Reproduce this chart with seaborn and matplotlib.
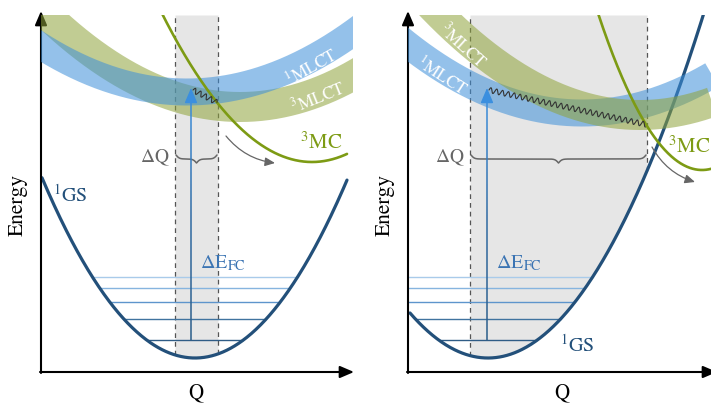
import numpy as np
import pandas as pd
import matplotlib
matplotlib.use("Agg")
import matplotlib.pyplot as plt
import seaborn as sns
from matplotlib.collections import LineCollection
from matplotlib.colors import LinearSegmentedColormap

# potential curves: (Q at minimum, E at minimum, curvature)
gs_left = (154, 14, 0.0077)
mc_left = (271, 210, 0.0066)
mlct1_left = (146, 280, 0.00215)
mlct3_left = (199, 265, 0.00247)

gs_right = (80, 14, 0.0074)
mc_right = (294, 202, 0.0145)
mlct1_right = (174, 259, 0.00225)
mlct3_right = (232, 257, 0.0025)

# vibrational levels of the ground state (E)
levels = [95, 84, 70, 53, 32]
level_colors = ['#a9cbea', '#86b4df', '#5e95cc', '#40739f', '#2f5c86']

# Franck-Condon region (Q range) and transition
fc_left = (134, 177)
fc_right = (62, 239)
exc_q_left = 150
exc_q_right = 79
exc_top = 284

W, H = 711, 405
TOP = 357

sns.set_theme(style="white")
plt.rcParams['font.family'] = ['STIXGeneral', 'DejaVu Serif']
plt.rcParams['mathtext.fontset'] = 'stix'

BLUE_BAND = '#3d8fd9'
GREEN_BAND = '#8fa33a'
GS_COL = '#23507a'
MC_COL = '#7d9b14'
GRAY = '#666666'

fig = plt.figure(figsize=(W / 100, H / 100), dpi=100)


def parab(q, p):
    q0, e0, k = p
    return e0 + k * (q - q0) ** 2


def brace(ax, q0, q1, e, h=8, beta=0.6):
    n = 200
    xh = np.linspace(0, (q1 - q0) / 2, n)
    f = 1 / (1 + np.exp(-beta * xh)) + 1 / (1 + np.exp(-beta * (xh - xh[-1])))
    f = np.concatenate([f, f[-2::-1]])
    xs = np.concatenate([xh, (q1 - q0) - xh[-2::-1]]) + q0
    ax.plot(xs, e - (f - 0.5) * h, color=GRAY, lw=1.1, zorder=6)


def wavy(ax, p0, p1, period=6.0, amp=2.6):
    p0 = np.asarray(p0, float)
    p1 = np.asarray(p1, float)
    d = p1 - p0
    L = np.hypot(*d)
    u = d / L
    nrm = np.array([-u[1], u[0]])
    t = np.linspace(0, 1, 500)
    s = amp * np.sin(2 * np.pi * t * L / period)
    pts = p0 + np.outer(t, d) + np.outer(s, nrm)
    ax.plot(pts[:, 0], pts[:, 1], color='#333333', lw=0.8, zorder=8)


def panel(x0, width, gs, mc, m1, m3, fc, exc_q, gs_rng, mc_rng, blue_top,
          lab1, lab3, lab_mc, lab_gs, mc_arrow, q_lab):
    ax = fig.add_axes([x0 / W, (H - 372) / H, width / W, TOP / H])
    ax.set_xlim(0, width)
    ax.set_ylim(0, TOP)
    ax.axis('off')

    # gray Franck-Condon region bounded below by the ground state
    qg = np.linspace(fc[0], fc[1], 300)
    ax.fill_between(qg, np.minimum(parab(qg, gs), TOP), TOP,
                    color='#e6e6e6', lw=0, zorder=0)
    for qb in fc:
        ax.plot([qb, qb], [parab(qb, gs), TOP], color='#555555', lw=0.9,
                ls=(0, (3.8, 3.2)), zorder=1)

    # vibrational levels
    q0, e0, k = gs
    for e, c in zip(levels, level_colors):
        d = np.sqrt((e - e0) / k)
        ax.plot([max(q0 - d, 0), q0 + d], [e, e], color=c, lw=1.0, zorder=2)

    # ground state
    q = np.linspace(gs_rng[0], gs_rng[1], 400)
    sns.lineplot(x=q, y=parab(q, gs), ax=ax, color=GS_COL, lw=2.3,
                 estimator=None, sort=False, zorder=3)

    # MLCT bands
    qb = np.linspace(-60, width + 60, 500)
    z1, z3 = (5, 4) if blue_top else (4, 5)
    sns.lineplot(x=qb, y=parab(qb, m1), ax=ax, color=BLUE_BAND, alpha=0.55,
                 lw=27 * 0.72, solid_capstyle='butt', estimator=None,
                 sort=False, zorder=z1)
    sns.lineplot(x=qb, y=parab(qb, m3), ax=ax, color=GREEN_BAND, alpha=0.55,
                 lw=30 * 0.72, solid_capstyle='butt', estimator=None,
                 sort=False, zorder=z3)

    # 3MC
    qm = np.linspace(mc_rng[0], mc_rng[1], 400)
    sns.lineplot(x=qm, y=parab(qm, mc), ax=ax, color=MC_COL, lw=1.9,
                 estimator=None, sort=False, zorder=6)

    # vertical excitation with colour gradient
    e_bot = levels[-1]
    ys = np.linspace(e_bot, exc_top - 6, 80)
    segs = [[(exc_q, ys[i]), (exc_q, ys[i + 1])] for i in range(len(ys) - 1)]
    cmap = LinearSegmentedColormap.from_list('exc', ['#2a5c89', '#2f6aa3', '#3b8fdf'])
    lc = LineCollection(segs, colors=cmap(np.linspace(0, 1, len(segs))),
                        linewidths=1.1, zorder=7)
    ax.add_collection(lc)
    ax.annotate('', xy=(exc_q, exc_top), xytext=(exc_q, exc_top - 8),
                arrowprops=dict(arrowstyle='-|>,head_length=0.75,head_width=0.32',
                                color='#3b8fdf', lw=1.1, shrinkA=0, shrinkB=0),
                zorder=7)

    # relaxation squiggle
    qe = fc[1] - 1
    wavy(ax, (exc_q + 2, exc_top - 2), (qe, parab(qe, mc)))

    # delta Q brace
    brace(ax, fc[0] + 1, fc[1] - 1, 217)
    ax.text(fc[0] - 5, 214, r'$\Delta$Q', color=GRAY, fontsize=14,
            ha='right', va='center')

    # relaxation arrow along 3MC
    ax.annotate('', xy=mc_arrow[1], xytext=mc_arrow[0],
                arrowprops=dict(arrowstyle='-|>,head_length=0.5,head_width=0.22',
                                color=GRAY, lw=0.9, shrinkA=0, shrinkB=0,
                                connectionstyle='arc3,rad=0.2'), zorder=6)

    # labels
    ax.text(exc_q + 9, 109, r'$\Delta$E$_{\mathrm{FC}}$', color='#3b74b3',
            fontsize=14.5, ha='left', va='center')
    ax.text(lab_gs[0], lab_gs[1], r'$^{1}$GS', color=GS_COL, fontsize=14.5,
            ha='left', va='center')
    ax.text(lab_mc[0], lab_mc[1], r'$^{3}$MC', color=MC_COL, fontsize=15,
            ha='center', va='center')
    ax.text(lab1[0], lab1[1], r'$^{1}$MLCT', color='white', fontsize=12.5,
            ha='center', va='center', rotation=lab1[2], rotation_mode='anchor',
            zorder=9)
    ax.text(lab3[0], lab3[1], r'$^{3}$MLCT', color='white', fontsize=12.5,
            ha='center', va='center', rotation=lab3[2], rotation_mode='anchor',
            zorder=9)

    # axes arrows
    ax.annotate('', xy=(0, TOP + 4), xytext=(0, -1),
                arrowprops=dict(arrowstyle='-|>,head_length=0.7,head_width=0.3',
                                color='black', lw=1.5, shrinkA=0, shrinkB=0),
                annotation_clip=False)
    ax.annotate('', xy=(q_lab[1], 0), xytext=(-1, 0),
                arrowprops=dict(arrowstyle='-|>,head_length=0.7,head_width=0.3',
                                color='black', lw=1.5, shrinkA=0, shrinkB=0),
                annotation_clip=False)
    ax.text(-23, 167, 'Energy', rotation=90, fontsize=15.5, ha='center',
            va='center', color='black', clip_on=False)
    ax.text(q_lab[0], -20, 'Q', fontsize=15, ha='center', va='center',
            color='black', clip_on=False)
    return ax


panel(41, 312, gs_left, mc_left, mlct1_left, mlct3_left, fc_left, exc_q_left,
      (1, 306), (100, 306), True,
      (271, 304, 29), (277, 275, 22), (280, 229), (12, 177),
      ((185, 236), (234, 209)), (155, 313))

panel(408, 303, gs_right, mc_right, mlct1_right, mlct3_right, fc_right,
      exc_q_right, (2, 300), (150, 303), False,
      (33, 295, -33), (55, 326, -42), (281, 225), (152, 27),
      ((244, 225), (287, 190)), (154, 309))

fig.savefig('out.png', dpi=100)
